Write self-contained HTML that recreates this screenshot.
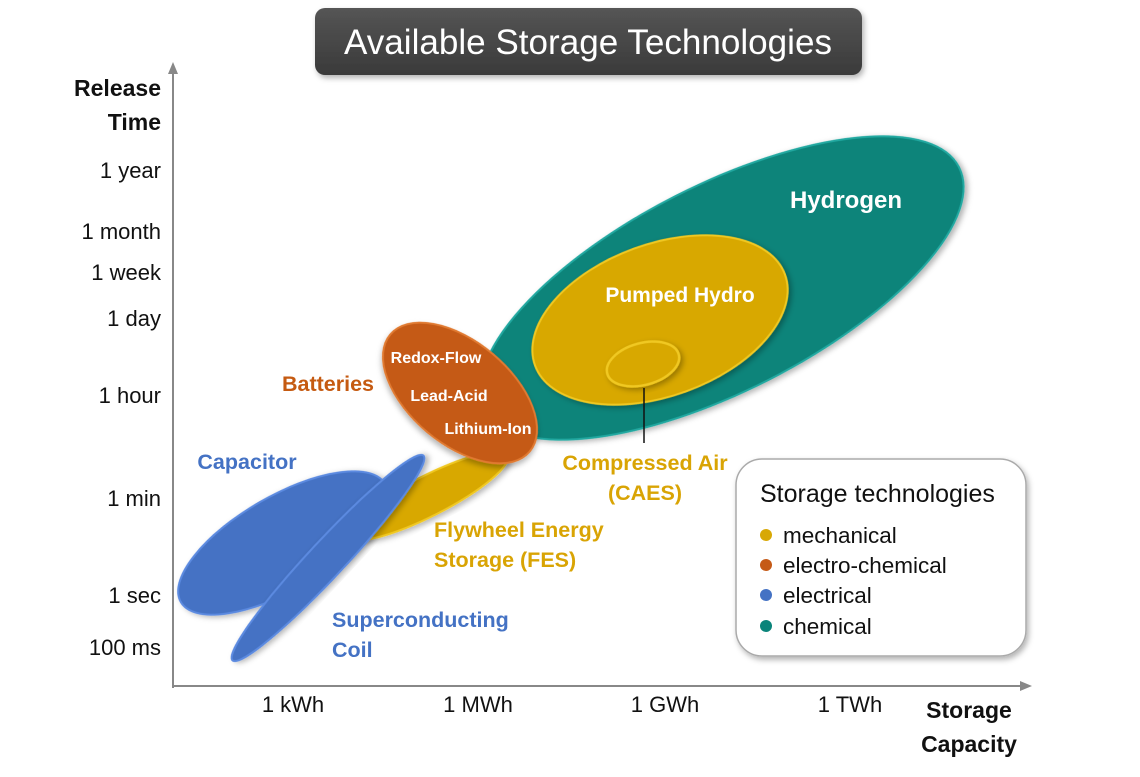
<!DOCTYPE html>
<html><head><meta charset="utf-8"><style>
html,body{margin:0;padding:0;background:#fff;}
svg{display:block;font-family:"Liberation Sans",sans-serif;}
</style></head><body>
<svg width="1140" height="777" viewBox="0 0 1140 777" xmlns="http://www.w3.org/2000/svg">
<defs>
<linearGradient id="tg" x1="0" y1="0" x2="0" y2="1"><stop offset="0" stop-color="#555"/><stop offset="1" stop-color="#3a3a3a"/></linearGradient>
<filter id="sh" x="-20%" y="-20%" width="140%" height="140%"><feDropShadow dx="2" dy="3" stdDeviation="3" flood-color="#000" flood-opacity="0.3"/></filter>
</defs>
<rect x="315" y="8" width="547" height="67" rx="10" fill="url(#tg)" filter="url(#sh)"/>
<text x="588" y="54" text-anchor="middle" fill="#fff" font-size="35" textLength="488" lengthAdjust="spacingAndGlyphs">Available Storage Technologies</text>
<line x1="173" y1="72" x2="173" y2="688" stroke="#888" stroke-width="2"/>
<polygon points="173,62 168,74 178,74" fill="#888"/>
<line x1="173" y1="686" x2="1022" y2="686" stroke="#888" stroke-width="2"/>
<polygon points="1032,686 1020,681 1020,691" fill="#888"/>
<g font-size="22" fill="#111" text-anchor="end">
<text x="161" y="178">1 year</text>
<text x="161" y="239">1 month</text>
<text x="161" y="280">1 week</text>
<text x="161" y="326">1 day</text>
<text x="161" y="403">1 hour</text>
<text x="161" y="506">1 min</text>
<text x="161" y="603">1 sec</text>
<text x="161" y="655">100 ms</text>
</g>
<g font-size="23" font-weight="bold" fill="#111" text-anchor="end">
<text x="161" y="96">Release</text>
<text x="161" y="130">Time</text>
</g>
<g font-size="22" fill="#111" text-anchor="middle">
<text x="293" y="712">1 kWh</text>
<text x="478" y="712">1 MWh</text>
<text x="665" y="712">1 GWh</text>
<text x="850" y="712">1 TWh</text>
</g>
<g font-size="23" font-weight="bold" fill="#111" text-anchor="middle">
<text x="969" y="718">Storage</text>
<text x="969" y="752">Capacity</text>
</g>
<ellipse cx="722" cy="288" rx="266" ry="103" transform="rotate(-27 722 288)" fill="#0a847a" stroke="#20a8a0" stroke-width="2" filter="url(#sh)"/>
<ellipse cx="660" cy="320" rx="133" ry="76" transform="rotate(-20 660 320)" fill="#d8a805" stroke="#f0c820" stroke-width="2" filter="url(#sh)"/>
<ellipse cx="643" cy="364" rx="37" ry="21" transform="rotate(-15 643 364)" fill="#d8a805" stroke="#f0c820" stroke-width="2.5" filter="url(#sh)"/>
<line x1="644" y1="388" x2="644" y2="443" stroke="#111" stroke-width="1.5"/>
<ellipse cx="283" cy="543" rx="118" ry="47" transform="rotate(-30 283 543)" fill="#4472c4" stroke="#5b8ae0" stroke-width="2" filter="url(#sh)"/>
<ellipse cx="428" cy="496" rx="89" ry="20" transform="rotate(-27 428 496)" fill="#d8a805" stroke="#f0c820" stroke-width="2" filter="url(#sh)"/>
<ellipse cx="328" cy="558" rx="140" ry="18" transform="rotate(-47 328 558)" fill="#4472c4" stroke="#5b8ae0" stroke-width="2" filter="url(#sh)"/>
<ellipse cx="460" cy="393" rx="91" ry="51" transform="rotate(40 460 393)" fill="#c55a17" stroke="#e07a30" stroke-width="2" filter="url(#sh)"/>
<g font-weight="bold" fill="#fff">
<text x="846" y="208" font-size="24" text-anchor="middle">Hydrogen</text>
<text x="680" y="302" font-size="21" text-anchor="middle">Pumped Hydro</text>
<text x="436" y="363" font-size="16" text-anchor="middle">Redox-Flow</text>
<text x="449" y="401" font-size="16" text-anchor="middle">Lead-Acid</text>
<text x="488" y="434" font-size="16" text-anchor="middle">Lithium-Ion</text>
</g>
<g font-weight="bold" font-size="21.5">
<text x="328" y="391" fill="#c55a11" text-anchor="middle">Batteries</text>
<text x="247" y="469" fill="#4472c4" text-anchor="middle">Capacitor</text>
<text x="332" y="627" fill="#4472c4">Superconducting</text>
<text x="332" y="657" fill="#4472c4">Coil</text>
<text x="434" y="537" fill="#d9a404">Flywheel Energy</text>
<text x="434" y="567" fill="#d9a404">Storage (FES)</text>
<text x="645" y="470" fill="#d9a404" text-anchor="middle">Compressed Air</text>
<text x="645" y="500" fill="#d9a404" text-anchor="middle">(CAES)</text>
</g>
<rect x="736" y="459" width="290" height="197" rx="26" fill="#fff" stroke="#aaa" stroke-width="1.5" filter="url(#sh)"/>
<text x="760" y="502" font-size="25" fill="#111">Storage technologies</text>
<g font-size="22.5" fill="#111">
<circle cx="766" cy="535" r="6" fill="#d8a805"/><text x="783" y="543">mechanical</text>
<circle cx="766" cy="565" r="6" fill="#c55a17"/><text x="783" y="573">electro-chemical</text>
<circle cx="766" cy="595" r="6" fill="#4472c4"/><text x="783" y="603">electrical</text>
<circle cx="766" cy="626" r="6" fill="#0a847a"/><text x="783" y="634">chemical</text>
</g>
</svg>
</body></html>
